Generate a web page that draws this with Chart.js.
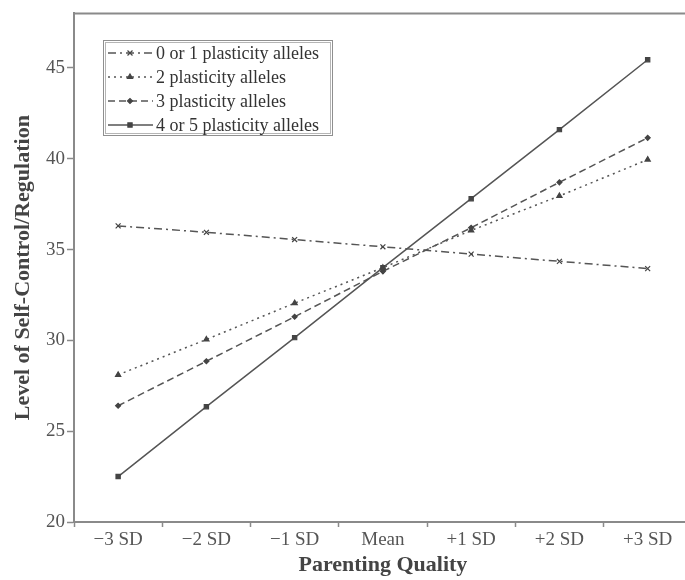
<!DOCTYPE html>
<html>
<head>
<meta charset="utf-8">
<script src="https://cdn.jsdelivr.net/npm/chart.js@4"></script>
<style>
    html, body { margin: 0; padding: 0; background: #fff; overflow: hidden; }
    #wrap { width: 697px; height: 580px; }
</style>
</head>
<body>
<div id="wrap"><canvas id="allelesChart" width="697" height="580"></canvas></div>
<script>
// x categories
const labels = ['\u22123 SD', '\u22122 SD', '\u22121 SD', 'Mean', '+1 SD', '+2 SD', '+3 SD'];
const yTicks = [20, 25, 30, 35, 40, 45];

// series
const alleles01 = [36.3, 35.95, 35.55, 35.15, 34.75, 34.35, 33.95];
const alleles2 = [28.1, 30.05, 32.05, 34.0, 36.05, 37.95, 39.95];
const alleles3 = [26.4, 28.85, 31.3, 33.8, 36.2, 38.7, 41.15];
const alleles45 = [22.5, 26.35, 30.15, 34.0, 37.8, 41.6, 45.45];

const seriesNames = ['0 or 1 plasticity alleles', '2 plasticity alleles', '3 plasticity alleles', '4 or 5 plasticity alleles'];

const lineCol = '#555';
const axisCol = '#8a8a8a';
const serif = "'Liberation Serif', 'DejaVu Serif', serif";

function makeSet(name, data, dash, style, radius) {
    return {
        label: name,
        data: data,
        borderColor: lineCol,
        backgroundColor: '#444',
        borderWidth: 1.5,
        borderDash: dash,
        pointStyle: style,
        pointRadius: radius,
        pointBorderColor: '#444',
        pointBackgroundColor: '#444',
        pointBorderWidth: 1.2,
        tension: 0
    };
}

// top frame line
const topLine = {
    id: 'topLine',
    afterDraw(chart) {
        const { ctx, chartArea } = chart;
        ctx.save();
        ctx.strokeStyle = axisCol;
        ctx.lineWidth = 2;
        ctx.beginPath();
        ctx.moveTo(chartArea.left, chartArea.top);
        ctx.lineTo(chartArea.right, chartArea.top);
        ctx.stroke();
        ctx.restore();
    }
};

// boxed legend with line samples
const boxLegend = {
    id: 'boxLegend',
    afterDraw(chart) {
        const ctx = chart.ctx;
        const x0 = 103, y0 = 40, w = 229, h = 95;
        ctx.save();
        ctx.fillStyle = '#fff';
        ctx.fillRect(x0, y0, w, h);
        ctx.strokeStyle = '#8f8f8f';
        ctx.lineWidth = 1;
        ctx.strokeRect(x0 + 0.5, y0 + 0.5, w, h);
        ctx.strokeStyle = '#b5b5b5';
        ctx.strokeRect(x0 + 2.5, y0 + 2.5, w - 4, h - 4);
        chart.data.datasets.forEach((ds, i) => {
            const y = 53 + i * 24;
            ctx.strokeStyle = ds.borderColor;
            ctx.lineWidth = ds.borderWidth;
            ctx.setLineDash(ds.borderDash);
            ctx.beginPath();
            ctx.moveTo(108, y);
            ctx.lineTo(153, y);
            ctx.stroke();
            ctx.setLineDash([]);
            ctx.fillStyle = ds.pointBackgroundColor;
            ctx.strokeStyle = ds.pointBorderColor;
            ctx.lineWidth = ds.pointBorderWidth;
            Chart.helpers.drawPoint(ctx, { pointStyle: ds.pointStyle, radius: ds.pointRadius, rotation: 0, borderWidth: ds.pointBorderWidth }, 130, y);
            ctx.fillStyle = '#333';
            ctx.font = '18px ' + serif;
            ctx.textBaseline = 'middle';
            ctx.textAlign = 'left';
            ctx.fillText(ds.label, 156, y + 1);
        });
        ctx.restore();
    }
};

const ctx = document.getElementById('allelesChart').getContext('2d');
new Chart(ctx, {
    type: 'line',
    data: {
        labels: labels,
        datasets: [
            makeSet(seriesNames[0], alleles01, [8, 4, 2, 4], 'crossRot', 3.5),
            makeSet(seriesNames[1], alleles2, [2, 4], 'triangle', 3),
            makeSet(seriesNames[2], alleles3, [7, 4], 'rectRot', 2.5),
            makeSet(seriesNames[3], alleles45, [], 'rect', 3)
        ]
    },
    options: {
        responsive: false,
        animation: false,
        layout: { padding: { top: 9, left: 0, right: 0, bottom: 0 } },
        plugins: {
            legend: { display: false },
            tooltip: { enabled: false }
        },
        scales: {
            x: {
                type: 'category',
                offset: true,
                grid: {
                    offset: true,
                    drawOnChartArea: false,
                    tickLength: 5,
                    tickColor: axisCol,
                    tickWidth: 1.5
                },
                border: { color: axisCol, width: 2 },
                ticks: {
                    color: '#555',
                    font: { family: serif, size: 19 },
                    padding: 2,
                    maxRotation: 0,
                    autoSkip: false
                },
                title: {
                    display: true,
                    text: 'Parenting Quality',
                    color: '#444',
                    font: { family: serif, size: 22, weight: 'bold' },
                    padding: { top: 0, bottom: 1 }
                },
                afterFit(scale) { scale.height = 58; }
            },
            y: {
                min: 20,
                max: 48,
                grid: {
                    drawOnChartArea: false,
                    tickLength: 7,
                    tickColor: axisCol,
                    tickWidth: 1.5
                },
                border: { color: axisCol, width: 2 },
                afterBuildTicks(scale) {
                    scale.ticks = yTicks.map(v => ({ value: v }));
                },
                ticks: {
                    color: '#555',
                    font: { family: serif, size: 19 },
                    padding: 2
                },
                title: {
                    display: true,
                    text: 'Level of Self-Control/Regulation',
                    color: '#444',
                    font: { family: serif, size: 22, weight: 'bold' },
                    padding: { top: 10, bottom: 0 }
                },
                afterFit(scale) { scale.width = 74; }
            }
        }
    },
    plugins: [topLine, boxLegend]
});
</script>
</body>
</html>
